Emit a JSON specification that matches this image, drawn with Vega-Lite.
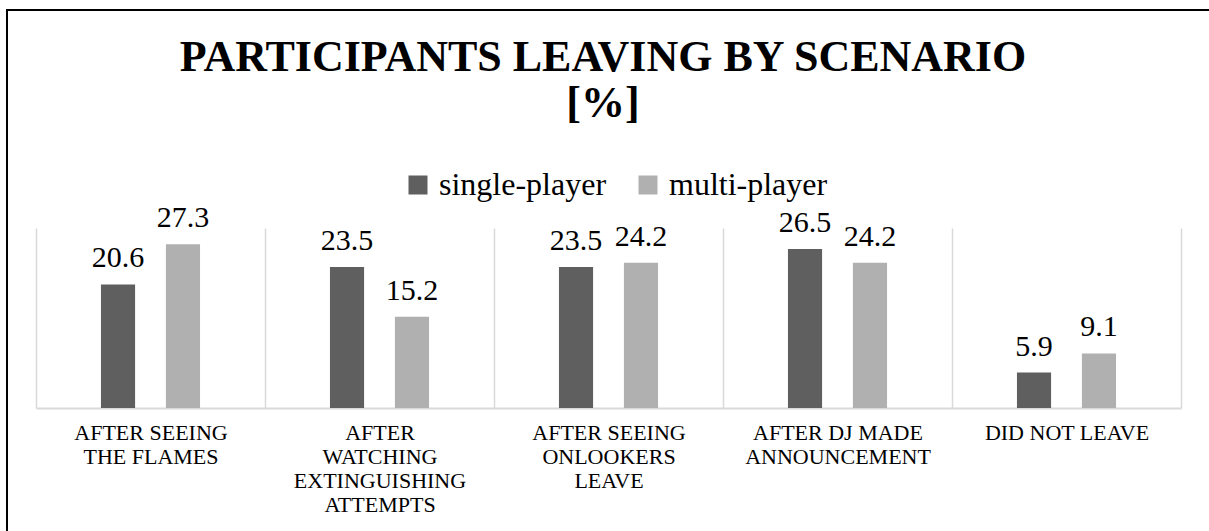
{
  "$schema": "https://vega.github.io/schema/vega-lite/v6.json",
  "width": 1300,
  "height": 616,
  "autosize": {"type": "none"},
  "padding": {"left": 7, "top": 10, "right": -98, "bottom": -95},
  "background": "white",
  "config": {
    "view": {"stroke": "#000000", "strokeWidth": 2},
    "font": "Liberation Serif"
  },
  "title": {
    "text": ["PARTICIPANTS LEAVING BY SCENARIO", "[%]"],
    "font": "Liberation Serif",
    "fontSize": 44,
    "fontWeight": "bold",
    "color": "#000000",
    "lineHeight": 46,
    "anchor": "start",
    "frame": "group",
    "align": "center",
    "dx": 596,
    "offset": -116
  },
  "data": {
    "values": [
      {"scenario": "AFTER SEEING THE FLAMES", "mode": "single-player", "value": 20.6},
      {"scenario": "AFTER SEEING THE FLAMES", "mode": "multi-player", "value": 27.3},
      {"scenario": "AFTER WATCHING EXTINGUISHING ATTEMPTS", "mode": "single-player", "value": 23.5},
      {"scenario": "AFTER WATCHING EXTINGUISHING ATTEMPTS", "mode": "multi-player", "value": 15.2},
      {"scenario": "AFTER SEEING ONLOOKERS LEAVE", "mode": "single-player", "value": 23.5},
      {"scenario": "AFTER SEEING ONLOOKERS LEAVE", "mode": "multi-player", "value": 24.2},
      {"scenario": "AFTER DJ MADE ANNOUNCEMENT", "mode": "single-player", "value": 26.5},
      {"scenario": "AFTER DJ MADE ANNOUNCEMENT", "mode": "multi-player", "value": 24.2},
      {"scenario": "DID NOT LEAVE", "mode": "single-player", "value": 5.9},
      {"scenario": "DID NOT LEAVE", "mode": "multi-player", "value": 9.1}
    ]
  },
  "encoding": {
    "x": {
      "field": "scenario",
      "type": "nominal",
      "sort": null,
      "scale": {"range": [29, 1174], "paddingInner": 0, "paddingOuter": 0},
      "axis": {
        "orient": "bottom",
        "offset": -218,
        "title": null,
        "domain": true,
        "domainColor": "#d9d9d9",
        "domainWidth": 2,
        "ticks": false,
        "grid": true,
        "gridColor": "#d9d9d9",
        "gridWidth": 1.5,
        "tickBand": "extent",
        "labelAngle": 0,
        "labelFont": "Liberation Serif",
        "labelFontSize": 22,
        "labelColor": "#000000",
        "labelPadding": 14,
        "labelLineHeight": 24,
        "labelLimit": 0,
        "labelExpr": "datum.label == 'AFTER SEEING THE FLAMES' ? ['AFTER SEEING', 'THE FLAMES'] : datum.label == 'AFTER WATCHING EXTINGUISHING ATTEMPTS' ? ['AFTER', 'WATCHING', 'EXTINGUISHING', 'ATTEMPTS'] : datum.label == 'AFTER SEEING ONLOOKERS LEAVE' ? ['AFTER SEEING', 'ONLOOKERS', 'LEAVE'] : datum.label == 'AFTER DJ MADE ANNOUNCEMENT' ? ['AFTER DJ MADE', 'ANNOUNCEMENT'] : datum.label"
      }
    },
    "xOffset": {
      "field": "mode",
      "type": "nominal",
      "sort": ["single-player", "multi-player"],
      "scale": {"paddingInner": 0.4746, "paddingOuter": 1.178}
    },
    "y": {
      "field": "value",
      "type": "quantitative",
      "scale": {"domain": [0, 30], "range": [398, 218]},
      "axis": null
    }
  },
  "layer": [
    {
      "mark": {"type": "bar"},
      "encoding": {
        "color": {
          "field": "mode",
          "type": "nominal",
          "sort": ["single-player", "multi-player"],
          "scale": {"domain": ["single-player", "multi-player"], "range": ["#5f5f5f", "#b0b0b0"]},
          "legend": {
            "orient": "none",
            "legendX": 395,
            "legendY": 159,
            "direction": "horizontal",
            "title": null,
            "symbolType": "square",
            "symbolSize": 361,
            "symbolStrokeWidth": 0,
            "labelFont": "Liberation Serif",
            "labelFontSize": 32,
            "labelColor": "#000000",
            "labelOffset": 5,
            "labelLimit": 0,
            "columnPadding": 25
          }
        }
      }
    },
    {
      "mark": {"type": "text", "baseline": "alphabetic", "dy": -17, "fontSize": 30, "font": "Liberation Serif", "color": "#000000"},
      "encoding": {
        "text": {"field": "value", "type": "quantitative", "format": ".1f"}
      }
    }
  ]
}
